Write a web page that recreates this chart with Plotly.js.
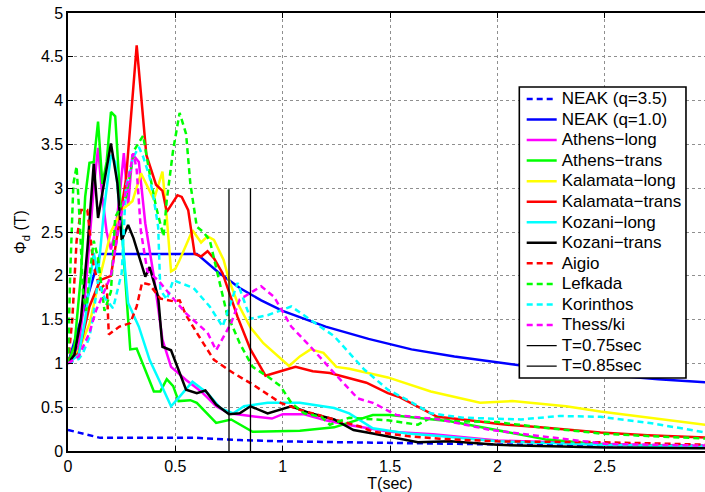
<!DOCTYPE html>
<html><head><meta charset="utf-8">
<script src="https://cdn.plot.ly/plotly-3.0.1.min.js"></script>
<style>html,body{margin:0;padding:0;overflow:hidden;background:#fff}#chart{width:712px;height:492px}</style>
</head><body><div id="chart"></div>
<script>
// ---- data ----
const neak35T   = [0, 0.15, 0.6, 0.8, 1.0, 1.5, 2.0, 2.5, 3.0];
const neak35Phi = [0.24, 0.15, 0.15, 0.125, 0.11, 0.09, 0.075, 0.065, 0.06];

const neak10T   = [0, 0.15, 0.6, 0.7, 0.8, 0.9, 1.0, 1.2, 1.4, 1.6, 1.8, 2.0, 2.25, 2.5, 2.75, 3.0];
const neak10Phi = [1, 2.25, 2.25, 2.04, 1.86, 1.72, 1.6, 1.42, 1.28, 1.16, 1.08, 1.01, 0.93, 0.87, 0.82, 0.78];

const athensLongT   = [0, 0.05, 0.08, 0.1, 0.12, 0.14, 0.16, 0.18, 0.2, 0.22, 0.24, 0.26, 0.28, 0.3, 0.33, 0.36, 0.4, 0.44, 0.48, 0.55, 0.62, 0.69, 0.75, 0.85, 0.95, 1.0, 1.1, 1.2, 1.3, 1.5, 1.7, 2.0, 2.5, 3.0];
const athensLongPhi = [1, 1.2, 1.8, 2.4, 3.0, 3.46, 2.9, 2.5, 2.3, 2.5, 2.9, 3.4, 2.8, 3.39, 3.3, 2.6, 1.99, 1.27, 0.96, 0.81, 0.68, 0.51, 0.43, 0.4, 0.37, 0.42, 0.42, 0.35, 0.3, 0.22, 0.19, 0.12, 0.08, 0.05];

const athensTransT   = [0, 0.03, 0.06, 0.08, 0.1, 0.12, 0.14, 0.16, 0.18, 0.2, 0.22, 0.24, 0.26, 0.29, 0.32, 0.4, 0.43, 0.46, 0.49, 0.515, 0.57, 0.6, 0.69, 0.76, 0.86, 1.08, 1.24, 1.42, 1.5, 1.78, 2.0, 2.23, 2.51, 3.0];
const athensTransPhi = [1, 1.2, 2.0, 2.9, 3.29, 3.3, 3.76, 3.05, 3.3, 3.87, 3.82, 3.0, 2.2, 1.16, 1.17, 0.68, 0.68, 0.82, 0.74, 0.57, 0.58, 0.55, 0.32, 0.36, 0.22, 0.23, 0.27, 0.41, 0.41, 0.34, 0.24, 0.13, 0.07, 0.05];

const kalLongT   = [0, 0.05, 0.1, 0.15, 0.2, 0.25, 0.3, 0.34, 0.4, 0.44, 0.46, 0.48, 0.5, 0.52, 0.58, 0.62, 0.65, 0.68, 0.725, 0.75, 0.79, 0.85, 0.91, 1.03, 1.08, 1.13, 1.19, 1.25, 1.31, 1.49, 1.69, 1.92, 2.07, 2.32, 2.48, 2.7, 3.0];
const kalLongPhi = [1, 1.15, 1.45, 2.0, 2.5, 2.75, 2.85, 3.17, 2.87, 3.19, 2.67, 2.05, 2.08, 2.18, 2.52, 2.38, 2.45, 2.41, 2.18, 1.95, 1.69, 1.41, 1.23, 0.97, 1.08, 1.16, 1.12, 0.96, 0.94, 0.84, 0.68, 0.55, 0.57, 0.51, 0.45, 0.38, 0.29];

const kalTransT   = [0, 0.05, 0.1, 0.15, 0.2, 0.24, 0.27, 0.32, 0.365, 0.41, 0.44, 0.46, 0.51, 0.53, 0.56, 0.59, 0.62, 0.65, 0.68, 0.72, 0.79, 0.85, 0.92, 0.99, 1.06, 1.14, 1.22, 1.39, 1.49, 1.54, 1.64, 1.72, 1.87, 2.0, 2.2, 2.48, 2.7, 3.0];
const kalTransPhi = [1, 1.12, 1.65, 1.95, 2.0, 2.6, 3.1, 4.63, 3.38, 3.04, 2.97, 2.73, 2.92, 2.9, 2.75, 2.25, 2.22, 2.28, 2.2, 2.03, 1.53, 1.16, 0.86, 0.91, 0.96, 0.91, 0.89, 0.78, 0.66, 0.62, 0.49, 0.39, 0.35, 0.31, 0.27, 0.21, 0.18, 0.15];

const kozLongT   = [0, 0.05, 0.08, 0.1, 0.12, 0.14, 0.17, 0.2, 0.22, 0.25, 0.28, 0.33, 0.38, 0.43, 0.48, 0.52, 0.58, 0.65, 0.71, 0.77, 0.82, 0.93, 1.08, 1.24, 1.31, 1.42, 1.58, 1.73, 2.0, 2.5, 3.0];
const kozLongPhi = [1, 1.1, 1.5, 1.9, 2.26, 2.03, 2.8, 3.38, 3.3, 2.5, 1.69, 1.42, 1.04, 0.78, 0.51, 0.62, 0.79, 0.66, 0.49, 0.43, 0.51, 0.55, 0.55, 0.49, 0.43, 0.26, 0.2, 0.17, 0.11, 0.07, 0.05];

const kozTransT   = [0, 0.03, 0.06, 0.09, 0.12, 0.14, 0.2, 0.23, 0.25, 0.28, 0.305, 0.36, 0.38, 0.42, 0.44, 0.48, 0.55, 0.6, 0.64, 0.69, 0.75, 0.8, 0.85, 0.93, 1.04, 1.13, 1.24, 1.33, 1.42, 1.63, 1.78, 2.0, 2.5, 3.0];
const kozTransPhi = [1, 1.1, 1.5, 2.3, 3.28, 2.66, 3.51, 3.06, 2.41, 2.58, 2.43, 1.99, 2.1, 1.76, 1.19, 1.15, 0.7, 0.66, 0.69, 0.53, 0.42, 0.43, 0.51, 0.43, 0.51, 0.43, 0.36, 0.24, 0.2, 0.1, 0.11, 0.07, 0.04, 0.03];

const aigioT   = [0, 0.02, 0.04, 0.06, 0.09, 0.12, 0.15, 0.18, 0.19, 0.24, 0.29, 0.32, 0.345, 0.38, 0.43, 0.49, 0.52, 0.55, 0.62, 0.68, 0.77, 0.86, 0.99, 1.08, 1.24, 1.36, 1.42, 1.58, 1.73, 2.0, 2.5, 2.82, 3.0];
const aigioPhi = [1, 1.5, 2.4, 2.75, 2.75, 2.1, 1.85, 1.92, 1.33, 1.42, 1.46, 1.65, 1.92, 1.9, 1.74, 1.71, 1.72, 1.55, 1.27, 1.04, 0.89, 0.76, 0.55, 0.47, 0.36, 0.28, 0.22, 0.17, 0.14, 0.11, 0.1, 0.08, 0.07];

const lefkadaT   = [0, 0.01, 0.025, 0.04, 0.055, 0.07, 0.085, 0.1, 0.12, 0.14, 0.17, 0.2, 0.22, 0.27, 0.31, 0.35, 0.38, 0.41, 0.445, 0.46, 0.49, 0.52, 0.55, 0.57, 0.6, 0.63, 0.66, 0.7, 0.74, 0.8, 0.86, 0.93, 0.99, 1.04, 1.1, 1.18, 1.22, 1.31, 1.49, 1.63, 1.69, 1.8, 2.0, 2.2, 2.48, 2.7, 3.0];
const lefkadaPhi = [1, 2.0, 3.05, 3.25, 2.6, 1.8, 1.6, 2.0, 2.4, 2.2, 1.6, 1.82, 2.67, 2.9, 3.44, 3.6, 3.17, 2.79, 2.45, 2.86, 3.44, 3.86, 3.62, 3.05, 2.56, 2.5, 2.41, 1.99, 1.57, 1.23, 0.96, 0.85, 0.74, 0.55, 0.43, 0.39, 0.3, 0.38, 0.35, 0.3, 0.38, 0.34, 0.33, 0.27, 0.2, 0.17, 0.14];

const korinthosT   = [0, 0.05, 0.07, 0.1, 0.12, 0.14, 0.17, 0.21, 0.25, 0.27, 0.305, 0.33, 0.35, 0.38, 0.4, 0.42, 0.43, 0.46, 0.49, 0.585, 0.66, 0.72, 0.79, 0.85, 0.93, 1.04, 1.24, 1.38, 1.49, 1.59, 1.69, 1.84, 2.11, 2.29, 2.48, 2.71, 3.0];
const korinthosPhi = [1, 1.05, 1.12, 1.3, 1.59, 1.95, 1.75, 1.63, 2.03, 3.02, 3.36, 3.47, 3.36, 3.13, 2.87, 2.56, 1.84, 1.73, 1.95, 1.86, 1.65, 1.42, 1.92, 1.51, 1.55, 1.65, 1.31, 0.93, 0.7, 0.57, 0.43, 0.38, 0.36, 0.4, 0.39, 0.32, 0.2];

const thessT   = [0, 0.05, 0.1, 0.13, 0.165, 0.2, 0.24, 0.28, 0.305, 0.32, 0.34, 0.37, 0.42, 0.47, 0.55, 0.65, 0.69, 0.76, 0.8, 0.9, 0.96, 1.04, 1.13, 1.24, 1.35, 1.42, 1.53, 1.73, 1.97, 2.2, 2.51, 3.0];
const thessPhi = [1, 1.08, 1.35, 1.6, 1.8, 2.0, 2.6, 3.1, 3.4, 3.21, 2.5, 2.05, 1.95, 1.8, 1.57, 1.35, 1.15, 1.46, 1.73, 1.88, 1.76, 1.42, 1.19, 0.89, 0.6, 0.55, 0.41, 0.36, 0.24, 0.17, 0.08, 0.06];

const t075T = [0.75, 0.75];
const t085T = [0.85, 0.85];
const tLinePhi = [0, 3];

const xTicks = [0, 0.5, 1, 1.5, 2, 2.5];
const yTicks = [0, 0.5, 1, 1.5, 2, 2.5, 3, 3.5, 4, 4.5, 5];

// ---- traces ----
const W = 2.5, DASH = '6px,4px';
function lbl(s) { return '<span style="font-size:17px">' + s + '</span>'; }
function tr(name, x, y, color, dash, width) {
  return {type: 'scatter', mode: 'lines', name: lbl(name), x: x, y: y,
          line: {color: color, width: width || W, dash: dash || 'solid'}};
}
const data = [
  tr('NEAK (q=3.5)', neak35T, neak35Phi, '#0000ff', DASH),
  tr('NEAK (q=1.0)', neak10T, neak10Phi, '#0000ff'),
  tr('Athens−long', athensLongT, athensLongPhi, '#ff00ff'),
  tr('Athens−trans', athensTransT, athensTransPhi, '#00ff00'),
  tr('Kalamata−long', kalLongT, kalLongPhi, '#ffff00'),
  tr('Kalamata−trans', kalTransT, kalTransPhi, '#ff0000'),
  tr('Kozani−long', kozLongT, kozLongPhi, '#00ffff'),
  tr('Kozani−trans', kozTransT, kozTransPhi, '#000000'),
  tr('Aigio', aigioT, aigioPhi, '#ff0000', DASH),
  tr('Lefkada', lefkadaT, lefkadaPhi, '#00ff00', DASH),
  tr('Korinthos', korinthosT, korinthosPhi, '#00ffff', DASH),
  tr('Thess/ki', thessT, thessPhi, '#ff00ff', DASH),
  tr('T=0.75sec', t075T, tLinePhi, '#000000', 'solid', 1.3),
  tr('T=0.85sec', t085T, tLinePhi, '#000000', 'solid', 1.3)
];

const FONT = 'Liberation Sans, Arial, Helvetica, sans-serif';
const axisCommon = {
  showline: true, linecolor: '#000', linewidth: 1.6, mirror: 'ticks',
  ticks: 'inside', ticklen: 5, tickwidth: 1, tickcolor: '#000',
  showgrid: true, gridcolor: '#8f8f8f', griddash: 'dot', gridwidth: 1,
  zeroline: false, tickfont: {family: FONT, size: 16, color: '#000'}
};
const layout = {
  width: 712, height: 492,
  margin: {l: 68, r: 0, t: 13, b: 41},
  paper_bgcolor: '#fff', plot_bgcolor: '#fff',
  font: {family: FONT, size: 16, color: '#000'},
  xaxis: Object.assign({}, axisCommon, {range: [0, 3], tickvals: xTicks, ticktext: xTicks.map(String),
    title: {text: 'T(sec)', font: {family: FONT, size: 16, color: '#000'}, standoff: 2}}),
  yaxis: Object.assign({}, axisCommon, {range: [0, 5], tickvals: yTicks, ticktext: yTicks.map(String),
    title: {text: 'Φ<sub>d</sub> (T)', font: {family: FONT, size: 16, color: '#000'}, standoff: 10}}),
  showlegend: true,
  legend: {x: 0.7045, y: 0.8386, xanchor: 'left', yanchor: 'top',
    bgcolor: 'rgba(0,0,0,0)', borderwidth: 0,
    font: {family: FONT, size: 13.5, color: '#000'}, tracegroupgap: 0, itemwidth: 30},
  // legend frame (white box behind the legend entries)
  shapes: [{type: 'rect', xref: 'paper', yref: 'paper', layer: 'above',
    x0: 0.7008, x1: 0.9596, y0: 0.1667, y1: 0.831,
    fillcolor: '#fff', line: {color: '#000', width: 1.6}}]
};
Plotly.newPlot('chart', data, layout, {staticPlot: true, displayModeBar: false});
</script>
</body></html>
